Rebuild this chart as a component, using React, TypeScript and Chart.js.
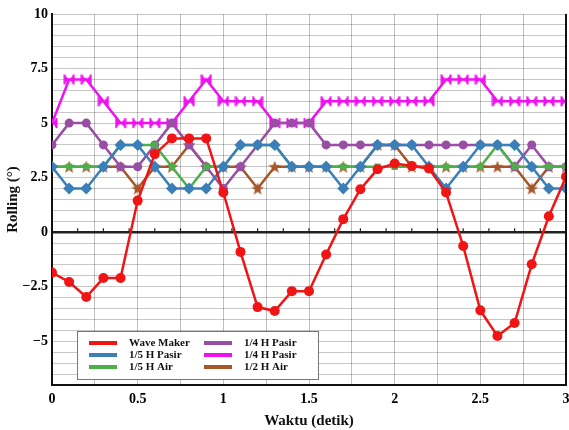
import { useEffect, useRef } from 'react';
import { Chart, registerables } from 'chart.js';

Chart.register(...registerables);

const time = [0, 0.1, 0.2, 0.3, 0.4, 0.5, 0.6, 0.7, 0.8, 0.9, 1.0, 1.1, 1.2, 1.3, 1.4, 1.5, 1.6, 1.7, 1.8, 1.9, 2.0, 2.1, 2.2, 2.3, 2.4, 2.5, 2.6, 2.7, 2.8, 2.9, 3.0];
const waveMaker = [-1.85, -2.28, -2.97, -2.1, -2.1, 1.45, 3.58, 4.3, 4.3, 4.3, 1.82, -0.9, -3.43, -3.61, -2.7, -2.7, -1.02, 0.6, 1.97, 2.89, 3.15, 3.04, 2.92, 1.82, -0.63, -3.58, -4.75, -4.16, -1.47, 0.73, 2.54];
const pasir15 = [3, 2, 2, 3, 4, 4, 3, 2, 2, 2, 3, 4, 4, 4, 3, 3, 3, 2, 3, 4, 4, 4, 3, 2, 3, 4, 4, 4, 3, 2, 2];
const air15 = [3, 3, 3, 3, 4, 4, 4, 3, 2, 3, 3, 4, 4, 4, 3, 3, 3, 3, 3, 3, 3, 3, 3, 3, 3, 3, 4, 3, 3, 3, 3];
const pasir14a = [4, 5, 5, 4, 3, 3, 4, 5, 4, 3, 2, 3, 4, 5, 5, 5, 4, 4, 4, 4, 4, 4, 4, 4, 4, 4, 4, 3, 4, 3, 3];
const pasir14b = [5, 7, 7, 6, 5, 5, 5, 5, 6, 7, 6, 6, 6, 5, 5, 5, 6, 6, 6, 6, 6, 6, 6, 7, 7, 7, 6, 6, 6, 6, 6];
const air12 = [3, 3, 3, 3, 3, 2, 3, 3, 4, 3, 3, 3, 2, 3, 3, 3, 3, 3, 3, 4, 4, 3, 3, 3, 3, 3, 3, 3, 2, 3, 3];

const seriesLabels = ['Wave Maker', '1/5 H Pasir', '1/5 H Air', '1/4 H Pasir', '1/4 H Pasir', '1/2 H Air'];
const seriesColors = ['#f01414', '#3a7fb8', '#4daf4a', '#984ea3', '#f010f0', '#a65628'];

const xTickValues = [0, 0.5, 1, 1.5, 2, 2.5, 3];
const xTickLabels = ['0', '0.5', '1', '1.5', '2', '2.5', '3'];
const yTickValues = [10, 7.5, 5, 2.5, 0, -2.5, -5];
const yTickLabels = ['10', '7.5', '5', '2.5', '0', '\u22122.5', '\u22125'];

const SERIF = "'Liberation Serif', 'Times New Roman', serif";

function labelFor(values: number[], labels: string[], v: number) {
  const i = values.findIndex((t) => Math.abs(t - v) < 1e-6);
  return i >= 0 ? labels[i] : '';
}

function makeBowtie(color: string) {
  const c = document.createElement('canvas');
  c.width = 12; c.height = 12;
  const g = c.getContext('2d')!;
  g.fillStyle = color;
  g.beginPath();
  g.moveTo(1, 1); g.lineTo(6, 6); g.lineTo(1, 11); g.closePath();
  g.moveTo(11, 1); g.lineTo(6, 6); g.lineTo(11, 11); g.closePath();
  g.fill();
  g.fillRect(0.5, 1, 2, 10);
  g.fillRect(9.5, 1, 2, 10);
  return c;
}

function makeStar(color: string) {
  const c = document.createElement('canvas');
  c.width = 14; c.height = 14;
  const g = c.getContext('2d')!;
  g.fillStyle = color;
  g.beginPath();
  for (let k = 0; k < 10; k++) {
    const r = k % 2 === 0 ? 6.8 : 2.8;
    const a = -Math.PI / 2 + (k * Math.PI) / 5;
    const px = 7 + r * Math.cos(a);
    const py = 7.5 + r * Math.sin(a);
    if (k === 0) g.moveTo(px, py); else g.lineTo(px, py);
  }
  g.closePath();
  g.fill();
  return c;
}

const zeroPad = () => ({ left: 0, top: 0, right: 0, bottom: 0 });

export default function App() {
  const ref = useRef<HTMLCanvasElement>(null);
  useEffect(() => {
    if (!ref.current) return;
    const seriesValues = [waveMaker, pasir15, air15, pasir14a, pasir14b, air12];
    const pointStyles: any[] = ['circle', 'rectRot', 'rect', 'circle', makeBowtie(seriesColors[4]), makeStar(seriesColors[5])];
    const pointRadii = [5, 6, 4.5, 4.5, 6, 7];

    const extras = {
      id: 'extras',
      afterDatasetsDraw(chart: any) {
        const { ctx, chartArea, scales } = chart;
        const y0 = scales.y.getPixelForValue(0);
        ctx.save();
        ctx.strokeStyle = '#222';
        ctx.lineWidth = 1.2;
        for (let k = 1; k < 20; k++) {
          const px = scales.x.getPixelForValue(k * 0.15);
          ctx.beginPath();
          ctx.moveTo(px, y0);
          ctx.lineTo(px, y0 - 4);
          ctx.stroke();
        }
        ctx.strokeStyle = '#111';
        ctx.lineWidth = 2;
        ctx.beginPath();
        ctx.moveTo(chartArea.right, chartArea.top);
        ctx.lineTo(chartArea.right, chartArea.bottom);
        ctx.stroke();
        const bx = chartArea.left + 25;
        const bw = 241;
        const bh = 48;
        const by = chartArea.bottom - 6 - bh;
        ctx.fillStyle = '#fff';
        ctx.fillRect(bx, by, bw, bh);
        ctx.strokeStyle = '#777';
        ctx.lineWidth = 1;
        ctx.strokeRect(bx + 0.5, by + 0.5, bw, bh);
        ctx.font = `bold 11px ${SERIF}`;
        ctx.textBaseline = 'middle';
        ctx.textAlign = 'left';
        for (let i = 0; i < seriesLabels.length; i++) {
          const col = Math.floor(i / 3);
          const row = i % 3;
          const ly = by + 12 + row * 12;
          const lx = bx + 12 + col * 115;
          ctx.strokeStyle = seriesColors[i];
          ctx.lineWidth = 4;
          ctx.beginPath();
          ctx.moveTo(lx, ly);
          ctx.lineTo(lx + 28, ly);
          ctx.stroke();
          ctx.fillStyle = '#111';
          ctx.fillText(seriesLabels[i], lx + 40, ly);
        }
        ctx.restore();
      },
    };

    const chart = new Chart(ref.current, {
      type: 'line',
      data: {
        datasets: seriesLabels.map((label, i) => ({
          label,
          data: time.map((t, j) => ({ x: t, y: seriesValues[i][j] })),
          borderColor: seriesColors[i],
          backgroundColor: seriesColors[i],
          pointBackgroundColor: seriesColors[i],
          pointBorderColor: seriesColors[i],
          borderWidth: 2.5,
          pointStyle: pointStyles[i],
          pointRadius: pointRadii[i],
          pointBorderWidth: 0,
          tension: 0,
        })),
      },
      options: {
        responsive: false,
        animation: false,
        devicePixelRatio: 1,
        layout: { autoPadding: false, padding: { top: 14, right: 3, left: 0, bottom: 0 } },
        plugins: { legend: { display: false }, tooltip: { enabled: false } },
        scales: {
          x: {
            type: 'linear',
            min: 0,
            max: 3,
            ticks: {
              stepSize: 0.25,
              autoSkip: false,
              maxRotation: 0,
              padding: 6,
              color: '#000',
              font: { family: SERIF, size: 14, weight: 'bold' },
              callback: (v: any) => labelFor(xTickValues, xTickLabels, Number(v)),
            },
            grid: { color: 'rgba(0,0,0,0.25)', drawTicks: false, lineWidth: 1 },
            border: { color: '#111', width: 2 },
            title: {
              display: true,
              text: 'Waktu (detik)',
              color: '#111',
              font: { family: SERIF, size: 15, weight: 'bold' },
              padding: { top: 3, bottom: 0 },
            },
            afterFit: (s: any) => { s.height = 45; s.paddingLeft = 0; s.paddingRight = 0; s.getPadding = zeroPad; },
          },
          y: {
            type: 'linear',
            min: -7,
            max: 10,
            ticks: {
              stepSize: 0.5,
              autoSkip: false,
              padding: 4,
              color: '#000',
              font: { family: SERIF, size: 14, weight: 'bold' },
              callback: (v: any) => labelFor(yTickValues, yTickLabels, Number(v)),
            },
            grid: {
              color: (c: any) => (c.tick && c.tick.value === 0 ? '#222' : 'rgba(0,0,0,0.22)'),
              lineWidth: (c: any) => (c.tick && c.tick.value === 0 ? 2.5 : 1),
              drawTicks: false,
            },
            border: { color: '#111', width: 2 },
            title: {
              display: true,
              text: 'Rolling (\u00B0)',
              color: '#111',
              font: { family: SERIF, size: 15, weight: 'bold' },
              padding: { top: 4, bottom: 0 },
            },
            afterFit: (s: any) => { s.width = 52; s.paddingTop = 0; s.paddingBottom = 0; s.getPadding = zeroPad; },
          },
        },
      },
      plugins: [extras],
    } as any);
    return () => chart.destroy();
  }, []);

  return (
    <div style={{ position: 'fixed', left: 0, top: 0, width: 569, height: 430, background: '#fff' }}>
      <canvas ref={ref} width={569} height={430} style={{ display: 'block', width: 569, height: 430 }} />
    </div>
  );
}
